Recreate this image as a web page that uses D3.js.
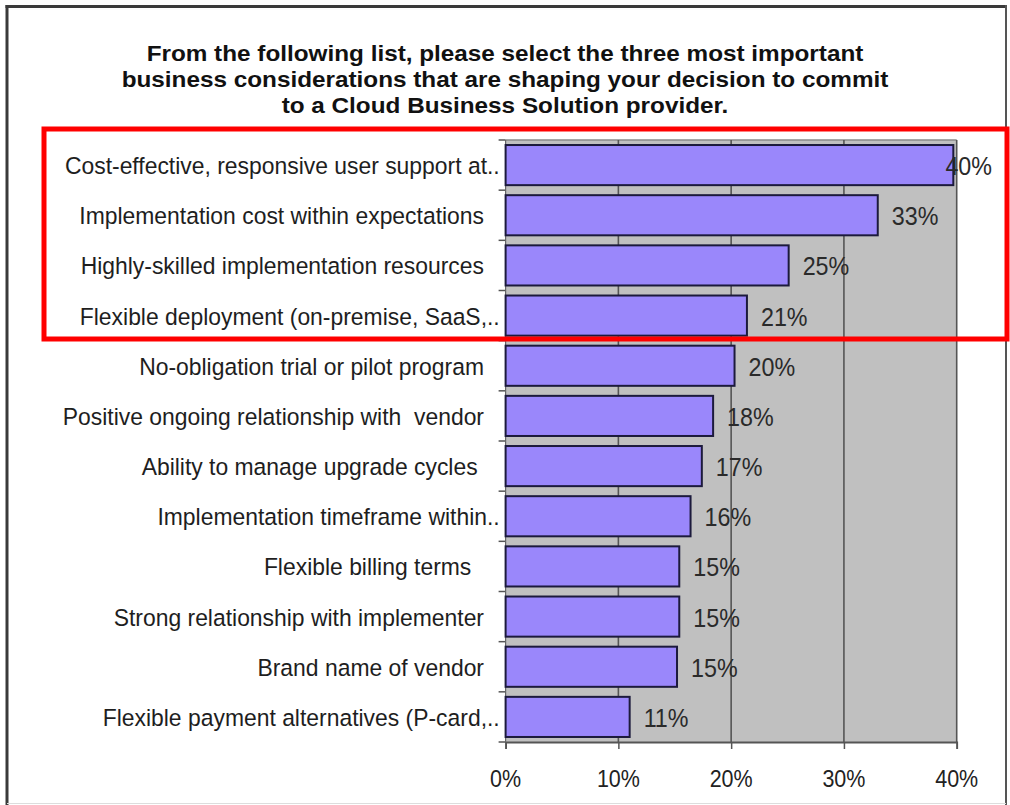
<!DOCTYPE html>
<html>
<head>
<meta charset="utf-8">
<script src="https://cdn.jsdelivr.net/npm/d3@7"></script>
<style>
  html, body { margin: 0; padding: 0; background: #fff; }
  svg { display: block; }
  text { font-family: "Liberation Sans", Arial, sans-serif; white-space: pre; }
</style>
</head>
<body>
<svg id="chart" width="1010" height="805"></svg>
<script>
const titleLines = [
  "From the following list, please select the three most important",
  "business considerations that are shaping your decision to commit",
  "to a Cloud Business Solution provider."
];
const categories = [
  "Cost-effective, responsive user support at..",
  "Implementation cost within expectations",
  "Highly-skilled implementation resources",
  "Flexible deployment (on-premise, SaaS,..",
  "No-obligation trial or pilot program",
  "Positive ongoing relationship with  vendor",
  "Ability to manage upgrade cycles ",
  "Implementation timeframe within..",
  "Flexible billing terms  ",
  "Strong relationship with implementer",
  "Brand name of vendor",
  "Flexible payment alternatives (P-card,.."
];
const values = [39.7, 33.0, 25.1, 21.4, 20.3, 18.4, 17.4, 16.4, 15.4, 15.4, 15.2, 11.0];
const valueLabels = ["40%", "33%", "25%", "21%", "20%", "18%", "17%", "16%", "15%", "15%", "15%", "11%"];
const xTicks = [0, 10, 20, 30, 40];
const xTickLabels = ["0%", "10%", "20%", "30%", "40%"];

const svg = d3.select("#chart");
const plot = { left: 505.6, right: 956.7, top: 140, bottom: 742 };

const x = d3.scaleLinear().domain([0, 40]).range([plot.left, plot.right]);
const y = d3.scaleBand().domain(categories).range([plot.top, plot.bottom])
  .paddingInner(0.2).paddingOuter(0.1);
const yStep = (plot.bottom - plot.top) / categories.length;

function txt(g, s, tx, ty, opts) {
  const sx = opts.sx || 1, sy = opts.sy || 1.08;
  const t = g.append("text")
    .attr("transform", `translate(${tx},${ty}) scale(${sx},${sy})`)
    .attr("font-size", opts.size)
    .attr("fill", opts.fill || "#222")
    .attr("text-anchor", opts.anchor || "start")
    .attr("font-weight", opts.weight || "normal")
    .text(s);
  return t;
}

// outer frame
svg.append("line").attr("x1", 7).attr("x2", 7).attr("y1", 5).attr("y2", 805).attr("stroke", "#3a3a3a").attr("stroke-width", 3);
svg.append("line").attr("x1", 5.5).attr("x2", 1007).attr("y1", 6.5).attr("y2", 6.5).attr("stroke", "#3a3a3a").attr("stroke-width", 3);
svg.append("line").attr("x1", 1006).attr("x2", 1006).attr("y1", 5).attr("y2", 805).attr("stroke", "#555").attr("stroke-width", 2);
svg.append("line").attr("x1", 7).attr("x2", 1006).attr("y1", 803.5).attr("y2", 803.5).attr("stroke", "#ddd").attr("stroke-width", 1);

// title
const tg = svg.append("g");
titleLines.forEach((s, i) => {
  txt(tg, s, 505, 61 + i * 26, { size: 22, sx: 1.105, sy: 1.02, weight: "bold", anchor: "middle", fill: "#111" });
});

// plot background
svg.append("rect").attr("x", plot.left).attr("y", plot.top)
  .attr("width", plot.right - plot.left).attr("height", plot.bottom - plot.top)
  .attr("fill", "#c0c0c0");
svg.append("line").attr("x1", plot.left).attr("x2", plot.right).attr("y1", plot.top).attr("y2", plot.top)
  .attr("stroke", "#8a8a8a").attr("stroke-width", 1.5);

// gridlines
svg.append("g").selectAll("line").data(xTicks.slice(1)).join("line")
  .attr("x1", d => x(d)).attr("x2", d => x(d))
  .attr("y1", plot.top).attr("y2", plot.bottom)
  .attr("stroke", "#555").attr("stroke-width", 1.6);

// x axis
const xAxis = d3.axisBottom(x).tickValues(xTicks).tickSize(7).tickFormat("");
const xg = svg.append("g").attr("transform", `translate(0,${plot.bottom})`).call(xAxis);
xg.select(".domain").attr("stroke", "#555").attr("stroke-width", 1.8);
xg.selectAll(".tick line").attr("stroke", "#555").attr("stroke-width", 1.5);
xTicks.forEach((d, i) => {
  txt(svg, xTickLabels[i], x(d), 787, { size: 21.5, anchor: "middle", fill: "#222" });
});

// y axis ticks at band boundaries
const yBounds = d3.range(categories.length + 1).map(i => plot.top + i * yStep);
svg.append("g").selectAll("line").data(yBounds).join("line")
  .attr("x1", plot.left - 7).attr("x2", plot.left)
  .attr("y1", d => d).attr("y2", d => d)
  .attr("stroke", "#555").attr("stroke-width", 1.5);
svg.append("line").attr("x1", plot.left).attr("x2", plot.left).attr("y1", plot.top).attr("y2", plot.bottom)
  .attr("stroke", "#666").attr("stroke-width", 1.2);

// bars
svg.append("g").selectAll("rect").data(values).join("rect")
  .attr("x", x(0))
  .attr("y", (d, i) => y(categories[i]))
  .attr("width", d => x(d) - x(0))
  .attr("height", y.bandwidth())
  .attr("fill", "#9a87fb")
  .attr("stroke", "#1c1a3c")
  .attr("stroke-width", 2);

// category labels
const cg = svg.append("g");
categories.forEach((c, i) => {
  const cy = y(c) + y.bandwidth() / 2 + 9;
  if (c.endsWith("..")) {
    txt(cg, c.slice(0, -2), 487, cy, { size: 22.9, anchor: "end", fill: "#1e1e1e" });
    txt(cg, "..", 487, cy, { size: 22.9, anchor: "start", fill: "#1e1e1e" });
  } else {
    txt(cg, c, 484, cy, { size: 22.9, anchor: "end", fill: "#1e1e1e" });
  }
});

// value labels
const vg = svg.append("g");
values.forEach((v, i) => {
  const cy = y(categories[i]) + y.bandwidth() / 2 + 10;
  const t = txt(vg, valueLabels[i], 0, cy, { size: 23.3, anchor: "start", fill: "#2a2a2a" });
  const w = t.node().getComputedTextLength();
  const lx = Math.min(x(v) + 14, 992 - w);
  t.attr("transform", `translate(${lx},${cy}) scale(1,1.08)`);
});

// red highlight rectangle
svg.append("rect").attr("x", 44).attr("y", 129)
  .attr("width", 1007 - 44).attr("height", 339 - 129)
  .attr("fill", "none").attr("stroke", "#ff0000").attr("stroke-width", 5);
</script>
</body>
</html>
